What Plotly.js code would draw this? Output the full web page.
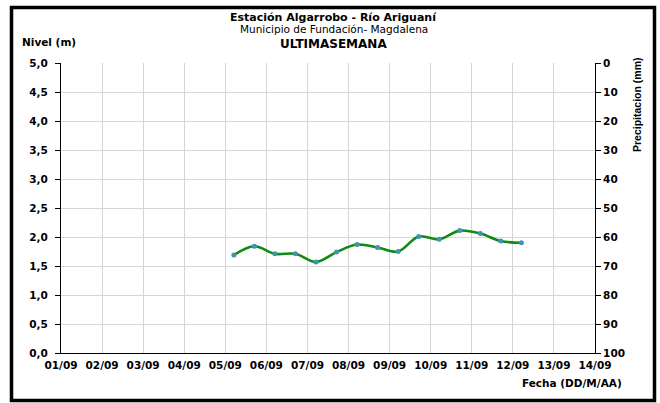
<!DOCTYPE html>
<html>
<head>
<meta charset="utf-8">
<script src="https://cdn.plot.ly/plotly-3.0.1.min.js"></script>
<style>html,body{margin:0;padding:0;background:#fff;}#chart{width:660px;height:403px;}</style>
</head>
<body>
<div id="chart"></div>
<script>
// Data
const fechas = [
  "2014-09-05 05:00", "2014-09-05 17:00",
  "2014-09-06 05:00", "2014-09-06 17:00",
  "2014-09-07 05:00", "2014-09-07 17:00",
  "2014-09-08 05:00", "2014-09-08 17:00",
  "2014-09-09 05:00", "2014-09-09 17:00",
  "2014-09-10 05:00", "2014-09-10 17:00",
  "2014-09-11 05:00", "2014-09-11 17:00",
  "2014-09-12 05:00"
];
const nivel = [1.69, 1.84, 1.71, 1.71, 1.57, 1.74, 1.87, 1.82, 1.75, 2.01, 1.96, 2.11, 2.06, 1.93, 1.90];
const precipitacion = [];
const fechasPrecip = [];

const titulo1 = "Estación Algarrobo - Río Ariguaní";
const titulo2 = "Municipio de Fundación- Magdalena";
const titulo3 = "ULTIMASEMANA";
const tituloY = "Nivel (m)";
const tituloY2 = "Precipitacion (mm)";
const tituloX = "Fecha (DD/M/AA)";

// Layout geometry (pixels)
const L = 61, R = 595, T = 63, B = 353, W = 660, H = 403;
const pw = R - L, ph = B - T;
const px = p => (p - L) / pw;
const py = q => (B - q) / ph;

const wide = "DejaVu Sans, Verdana, sans-serif";
const narrow = "Liberation Sans, Arial, sans-serif";
const tickF = {family: wide, size: 10.5, color: "#000", weight: "bold"};

const traces = [
  {
    x: fechas, y: nivel, type: "scatter", mode: "lines+markers",
    line: {color: "#0f8a12", width: 2.6, shape: "spline", smoothing: 1},
    marker: {color: "#3f93b3", size: 5},
    showlegend: false, hoverinfo: "skip"
  },
  {
    x: fechasPrecip, y: precipitacion, type: "bar", yaxis: "y2",
    showlegend: false, hoverinfo: "skip"
  }
];

const layout = {
  width: W, height: H,
  margin: {l: L, r: W - R, t: T, b: H - B, pad: 0},
  paper_bgcolor: "#fff", plot_bgcolor: "#fff",
  separators: ",.",
  font: {family: wide, size: 11, color: "#000"},
  showlegend: false,
  xaxis: {
    type: "date",
    range: ["2014-09-01", "2014-09-14"],
    tickmode: "linear", tick0: "2014-09-01", dtick: 86400000,
    tickformat: "%d/%m",
    tickfont: tickF, ticklabelstandoff: 2,
    showgrid: true, gridcolor: "#d6d6d6", gridwidth: 1,
    showline: true, linecolor: "#000", linewidth: 1,
    ticks: "", zeroline: false, fixedrange: true
  },
  yaxis: {
    range: [0, 5], tickmode: "linear", tick0: 0, dtick: 0.5,
    tickformat: ".1f",
    tickfont: tickF, ticklabelstandoff: 5,
    showgrid: true, gridcolor: "#d6d6d6", gridwidth: 1,
    showline: true, linecolor: "#000", linewidth: 1,
    ticks: "outside", ticklen: 5, tickcolor: "#000", tickwidth: 1,
    zeroline: false, fixedrange: true
  },
  yaxis2: {
    overlaying: "y", side: "right",
    range: [100, 0], tickmode: "linear", tick0: 0, dtick: 10,
    tickfont: tickF,
    showgrid: false,
    showline: true, linecolor: "#000", linewidth: 1,
    ticks: "outside", ticklen: 5, tickcolor: "#000", tickwidth: 1,
    zeroline: false, fixedrange: true
  },
  annotations: [
    {text: "<b>" + titulo1 + "</b>", xref: "paper", yref: "paper", x: px(333.5), y: py(17.5),
     xanchor: "center", yanchor: "middle", showarrow: false, font: {family: wide, size: 11}},
    {text: titulo2, xref: "paper", yref: "paper", x: px(333.5), y: py(29.5),
     xanchor: "center", yanchor: "middle", showarrow: false, font: {family: wide, size: 10.5}},
    {text: "<b>" + titulo3 + "</b>", xref: "paper", yref: "paper", x: px(333.5), y: py(43.5),
     xanchor: "center", yanchor: "middle", showarrow: false, font: {family: wide, size: 12}},
    {text: "<b>" + tituloY + "</b>", xref: "paper", yref: "paper", x: px(20), y: py(42),
     xanchor: "left", yanchor: "middle", showarrow: false, font: {family: wide, size: 10.5}},
    {text: "<b>" + tituloX + "</b>", xref: "paper", yref: "paper", x: px(624), y: py(383),
     xanchor: "right", yanchor: "middle", showarrow: false, font: {family: wide, size: 10.5}},
    {text: "<b>" + tituloY2 + "</b>", xref: "paper", yref: "paper", x: px(637), y: py(105),
     xanchor: "center", yanchor: "middle", textangle: -90, showarrow: false, font: {family: narrow, size: 10.5}}
  ],
  shapes: [
    {type: "rect", xref: "paper", yref: "paper",
     x0: px(11.5), x1: px(654.5), y0: py(400.5), y1: py(7.5),
     line: {color: "#000", width: 3.5}, fillcolor: "rgba(0,0,0,0)", layer: "above"}
  ]
};

Plotly.newPlot("chart", traces, layout, {staticPlot: true, displayModeBar: false});
</script>
</body>
</html>
